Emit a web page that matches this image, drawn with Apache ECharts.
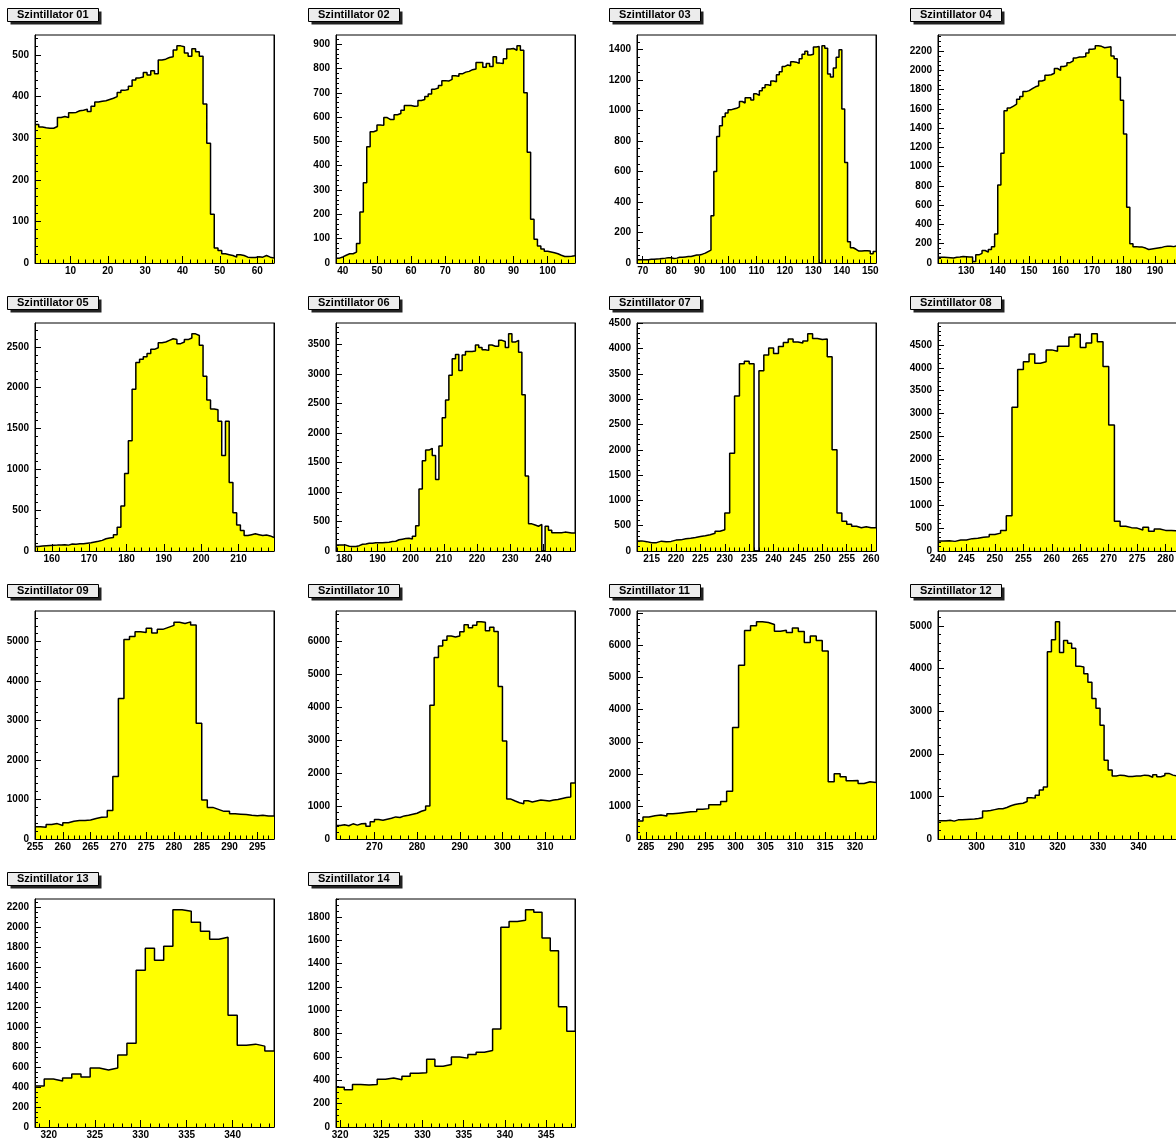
<!DOCTYPE html>
<html>
<head>
<meta charset="utf-8">
<script src="https://cdn.jsdelivr.net/npm/echarts@6/dist/echarts.min.js"></script>
<style>
  html, body { margin: 0; padding: 0; background: #fff; }
  #main { width: 1176px; height: 1138px; }
</style>
</head>
<body>
<div id="main"></div>
<script>
// Panel titles
const titles = [
  'Szintillator 01', 'Szintillator 02', 'Szintillator 03', 'Szintillator 04',
  'Szintillator 05', 'Szintillator 06', 'Szintillator 07', 'Szintillator 08',
  'Szintillator 09', 'Szintillator 10', 'Szintillator 11', 'Szintillator 12',
  'Szintillator 13', 'Szintillator 14'
];

// Histogram ranges (low / high edge of the binned axis)
const xLow  = [0.5, 38, 68, 121, 155.5, 177.5, 212, 240, 255, 261, 283.5, 290.5, 318.5, 319.5];
const xHigh = [64.5, 108, 152, 197, 219.5, 249.5, 261, 282, 298, 317, 323.5, 349.5, 344.5, 348.5];

// Tick spacing: labelled ticks and minor ticks on each axis
const xMajorStep = [10, 10, 10, 10, 10, 10, 5, 5, 5, 10, 5, 10, 5, 5];
const xMinorStep = [2, 2, 2, 2, 2, 2, 1, 1, 1, 2, 1, 2, 1, 1];
const yMajorStep = [100, 100, 200, 200, 500, 500, 500, 500, 1000, 1000, 1000, 1000, 200, 200];
const yMinorStep = [20, 20, 50, 50, 100, 100, 100, 100, 200, 200, 200, 200, 50, 50];

// Bin contents
const counts01 = [333,327,325,324,324,328, 350,352,350, 361,362,366,367,370,364,377,
  387,389,390,393,396,400,410,415,417,425, 440,445,447,458,452,462,455,
  488,490,494,496,512,522,520,505,497,515,508,497, 382,288,117,36,
  30,22,20,18,14,20,18,14,13,13,15,14,18,14,12];
const counts02 = [20,25,32,38,38,45,80,210,330,478, 540,545,568,566,598,590,590,610,615,628,
  648,648,645,646,668,672,685,695,715,720, 730,750,748,755,770,768,778,785,788,795,
  798,825,825,805,820,808,848,822,820,840, 880,882,875,893,875,700,455,180,98,70,
  58,48,45,42,38,32,27,27,28,30];
const counts03 = [22,22,22,22,24,25,27,28,30,32, 35,34,30,32,38,38,40,42,43,48,
  52,53,58,65,75,85,310,600,830,900, 960,985,1005,1010,1015,1025,1060,1050,1085,1085,
  1070,1110,1100,1130,1150,1170,1165,1195,1190,1235, 1255,1290,1300,1295,1320,1318,1310,1340,1370,1390,
  1365,1370,1418,1420,0,1425,1410,1240,1220,1280, 1350,1400,1010,660,140,100,90,78,78,80,
  80,78,60,75];
const counts04 = [60,60,58,55,52,60,62,68,66,62, 62,15,85,100,130,112,140,170,300,810,
  1140,1580,1610,1630,1650,1700,1730,1780,1790,1810, 1830,1840,1890,1900,1950,1955,1970,2020,2000,2040,
  2050,2080,2100,2130,2140,2140,2145,2180,2220,2225, 2255,2250,2235,2240,2245,2150,2120,1930,1690,1340,
  580,200,170,165,165,155,140,145,150,155, 160,170,175,175,170,180];
const counts05 = [55,60,65,68,70,72,75,78,72,85, 82,88,90,95,100,110,120,130,150,160,
  165,200,290,550,950,1350,1980,2310,2350,2380, 2420,2470,2490,2550,2560,2580,2600,2590,2540,2560,
  2590,2610,2660,2640,2520,2140,1850,1740,1730,1590, 1170,1590,840,470,320,250,190,200,210,200,
  190,195,185,165];
const counts06 = [100,100,100,80,75,75,90,115,120,130,130,140,140,140,145,150,160,165,190,200,210,215,205,250,
  430,
  1050,1530,1710,1740,1620,1210,1780,2260,2560,2980,3260,3330,3060,3320,3380,3380,3390,3490,3450,3410,
  3400,3490,3470,3470,3570,3550,3450,3680,3540,3570,3370,
  2650,1270,460,440,420,450,0,420,350,310,310,310,320,315,305,305];
const counts07 = [200,185,165,165,195,185,190,215,220,240, 250,265,285,300,320,350,390,420,750,1930,
  3060,3700,3750,3700,0,3560,3870,4010,3900,4040, 4120,4190,4130,4110,4150,4290,4200,4180,4190,3840,
  2000,750,590,530,490,460,480,460,460];
const counts08 = [220,225,210,240,240,270,280,300,310,360, 390,450,770,3140,3960,4130,4300,4100,4130,4390,
  4360,4470,4470,4670,4730,4440,4540,4740,4570,4030, 2750,650,540,510,500,460,520,430,480,450,
  450,440];
const counts09 = [310,300,370,390,340,410,450,470,470,480, 520,550,560,720,1580,3560,5050,5130,5250,5230,
  5340,5220,5310,5360,5410,5490,5460,5500,5420,2930, 990,800,750,700,700,640,630,620,600,590,
  600,580,580];
const counts10 = [410,430,400,460,420,460,470,390,520,590, 570,600,630,670,650,700,720,750,780,840,
  880,1000,4050,5500,5850,6020,6150,6120,6150,6280, 6490,6400,6480,6580,6570,6310,6420,6290,4620,2970,
  1210,1150,1100,1070,1160,1120,1150,1180,1170,1150, 1180,1200,1230,1260,1270,1700];
const counts11 = [560,680,720,740,710,780,800,820,840,850, 920,940,1060,1060,1160,1480,3450,5380,6450,6600,
  6720,6700,6640,6430,6460,6390,6530,6420,6080,6280, 6140,5820,1770,2020,1930,1800,1810,1720,1770,1750];
const counts12 = [430,430,440,420,450,450,460,465,470,480, 500,660,670,690,710,710,740,780,810,830,
  840,880,970,960,1030,1150,1220,4400,4680,5100, 4380,4660,4600,4480,4060,4040,3880,3680,3300,3070,
  2670,1850,1620,1480,1500,1490,1470,1470,1480,1480, 1500,1490,1450,1510,1460,1490,1540,1500,1480];
const counts13 = [410,480,460,490,530,500,590,570,590,720, 840,1570,1790,1670,1810,2175,2160,2050,1960,1880,
  1900,1120,820,830,810,760];
const counts14 = [340,320,365,360,365,410,420,405,435,460, 465,580,520,535,600,590,620,640,655,840,
  1710,1760,1770,1860,1840,1620,1510,1030,820];

const allCounts = [counts01, counts02, counts03, counts04, counts05, counts06, counts07,
  counts08, counts09, counts10, counts11, counts12, counts13, counts14];

// Pad layout (pixels)
const PLOT_W = 239, PLOT_H = 228;
const COL_STEP = 301, ROW_STEP = 288, ORIGIN_X = 35, ORIGIN_Y = 35;
const FONT = '"Liberation Sans", Arial, Helvetica, sans-serif';

function ticksBetween(lo, hi, step) {
  const out = [];
  let v = Math.ceil(lo / step - 1e-9) * step;
  for (; v <= hi + 1e-9; v += step) out.push(Math.round(v * 1000) / 1000);
  return out;
}

const option = {
  animation: false,
  backgroundColor: '#ffffff',
  grid: [], xAxis: [], yAxis: [], series: [], graphic: []
};

allCounts.forEach((c, i) => {
  const col = i % 4, row = Math.floor(i / 4);
  const L = ORIGIN_X + COL_STEP * col;
  const T = ORIGIN_Y + ROW_STEP * row;
  const lo = xLow[i], hi = xHigh[i];
  const binW = (hi - lo) / c.length;
  const yMax = Math.max(...c) * 1.05;

  option.grid.push({
    left: L, top: T, width: PLOT_W, height: PLOT_H,
    show: true, borderColor: '#000', borderWidth: 1, backgroundColor: '#ffffff',
    containLabel: false, outerBoundsMode: 'none'
  });

  const xMaj = ticksBetween(lo, hi, xMajorStep[i]);
  const xMin = ticksBetween(lo, hi, xMinorStep[i]);
  const yMaj = ticksBetween(0, yMax, yMajorStep[i]);
  const yMin = ticksBetween(0, yMax, yMinorStep[i]);

  const labelStyle = {
    color: '#000', fontFamily: FONT, fontWeight: 'bold', fontSize: 10,
    showMinLabel: true, showMaxLabel: true, formatter: v => String(v)
  };

  // x axis: labelled ticks
  option.xAxis.push({
    type: 'value', gridIndex: i, min: lo, max: hi, position: 'bottom', z: 5,
    axisLine: { show: true, onZero: false, lineStyle: { color: '#000', width: 1 } },
    axisTick: { show: true, inside: true, length: 7, customValues: xMaj, lineStyle: { color: '#000', width: 1 } },
    axisLabel: Object.assign({ show: true, customValues: xMaj, margin: 3 }, labelStyle),
    splitLine: { show: false }
  });
  // x axis: minor ticks
  option.xAxis.push({
    type: 'value', gridIndex: i, min: lo, max: hi, position: 'bottom', z: 5,
    axisLine: { show: false, onZero: false },
    axisTick: { show: true, inside: true, length: 3.5, customValues: xMin, lineStyle: { color: '#000', width: 1 } },
    axisLabel: { show: false }, splitLine: { show: false }
  });
  // y axis: labelled ticks
  option.yAxis.push({
    type: 'value', gridIndex: i, min: 0, max: yMax, position: 'left', z: 5,
    axisLine: { show: true, onZero: false, lineStyle: { color: '#000', width: 1 } },
    axisTick: { show: true, inside: true, length: 6, customValues: yMaj, lineStyle: { color: '#000', width: 1 } },
    axisLabel: Object.assign({ show: true, customValues: yMaj, margin: 6 }, labelStyle),
    splitLine: { show: false }
  });
  // y axis: minor ticks
  option.yAxis.push({
    type: 'value', gridIndex: i, min: 0, max: yMax, position: 'left', z: 5,
    axisLine: { show: false, onZero: false },
    axisTick: { show: true, inside: true, length: 3, customValues: yMin, lineStyle: { color: '#000', width: 1 } },
    axisLabel: { show: false }, splitLine: { show: false }
  });
  // right frame edge kept above the fill
  option.yAxis.push({
    type: 'value', gridIndex: i, min: 0, max: yMax, position: 'right', z: 5,
    axisLine: { show: true, onZero: false, lineStyle: { color: '#000', width: 1 } },
    axisTick: { show: false }, axisLabel: { show: false }, splitLine: { show: false }
  });

  // step outline: left edge of every bin, closed at the high edge
  const pts = c.map((v, k) => [lo + k * binW, v]);
  pts.push([hi, c[c.length - 1]]);
  option.series.push({
    type: 'line', name: titles[i], xAxisIndex: 2 * i, yAxisIndex: 3 * i,
    data: pts, step: 'end', symbol: 'none', silent: true, z: 2,
    lineStyle: { color: '#000', width: 1.5 },
    areaStyle: { color: '#ffff00', opacity: 1 }
  });

  // title box with drop shadow
  option.graphic.push({
    type: 'rect', z: 100, silent: true,
    shape: { x: L - 24.5, y: T - 23.5, width: 91, height: 13 },
    style: { fill: '#222' }
  });
  option.graphic.push({
    type: 'rect', z: 101, silent: true,
    shape: { x: L - 27.5, y: T - 26.5, width: 91, height: 13 },
    style: { fill: '#ececec', stroke: '#000', lineWidth: 1 }
  });
  option.graphic.push({
    type: 'text', z: 102, silent: true, x: L - 18, y: T - 20,
    style: { text: titles[i], fill: '#000', font: 'bold 11px ' + FONT, verticalAlign: 'middle', align: 'left' }
  });
});

const chart = echarts.init(document.getElementById('main'), null, { renderer: 'canvas', width: 1176, height: 1138 });
chart.setOption(option);
</script>
</body>
</html>
